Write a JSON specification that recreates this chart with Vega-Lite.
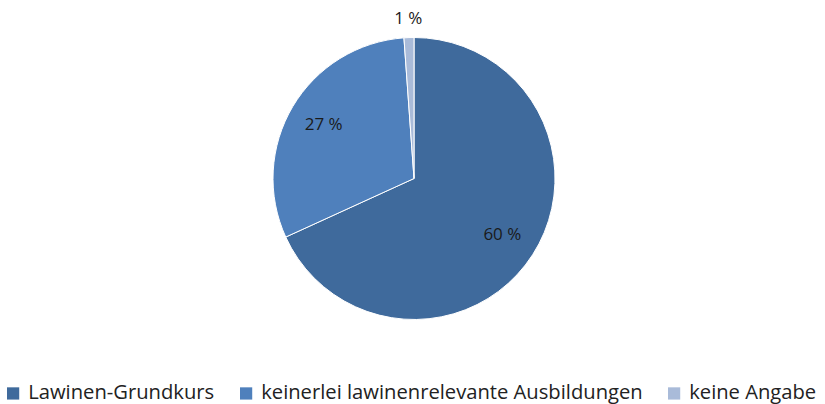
{
  "$schema": "https://vega.github.io/schema/vega-lite/v6.json",
  "width": 825,
  "height": 404,
  "autosize": {"type": "fit", "contains": "padding"},
  "padding": {"left": 3, "right": 0, "top": 0, "bottom": 0},
  "background": "white",
  "config": {"view": {"stroke": null}, "font": "Open Sans"},
  "data": {
    "values": [
      {"kategorie": "Lawinen-Grundkurs", "wert": 60, "label": "60  %", "ord": 1},
      {"kategorie": "keinerlei lawinenrelevante Ausbildungen", "wert": 27, "label": "27 %", "ord": 2},
      {"kategorie": "keine Angabe", "wert": 1, "label": "1 %", "ord": 3}
    ]
  },
  "encoding": {
    "theta": {"field": "wert", "type": "quantitative", "stack": true},
    "order": {"field": "ord", "type": "quantitative"},
    "color": {
      "field": "kategorie",
      "type": "nominal",
      "scale": {
        "domain": ["Lawinen-Grundkurs", "keinerlei lawinenrelevante Ausbildungen", "keine Angabe"],
        "range": ["#3F6A9C", "#4F80BC", "#A9BBD9"]
      },
      "legend": {
        "orient": "bottom",
        "direction": "horizontal",
        "title": null,
        "symbolType": "square",
        "symbolSize": 150,
        "symbolStrokeWidth": 0,
        "labelFontSize": 20.2,
        "labelFont": "Open Sans",
        "labelColor": "#222222",
        "labelLimit": 0,
        "columnPadding": 21,
        "labelOffset": 5,
        "offset": 26
      }
    }
  },
  "layer": [
    {
      "mark": {"type": "arc", "outerRadius": 141, "stroke": "white", "strokeWidth": 1}
    },
    {
      "mark": {"type": "text", "radius": 105, "fontSize": 17, "font": "Open Sans", "color": "#1a1a1a"},
      "encoding": {
        "text": {"condition": {"test": "datum.wert >= 5", "field": "label"}, "value": ""},
        "color": {"value": "#1a1a1a"}
      }
    },
    {
      "mark": {"type": "text", "radius": 160, "fontSize": 17, "font": "Open Sans", "color": "#1a1a1a"},
      "encoding": {
        "text": {"condition": {"test": "datum.wert < 5", "field": "label"}, "value": ""},
        "color": {"value": "#1a1a1a"}
      }
    }
  ]
}
